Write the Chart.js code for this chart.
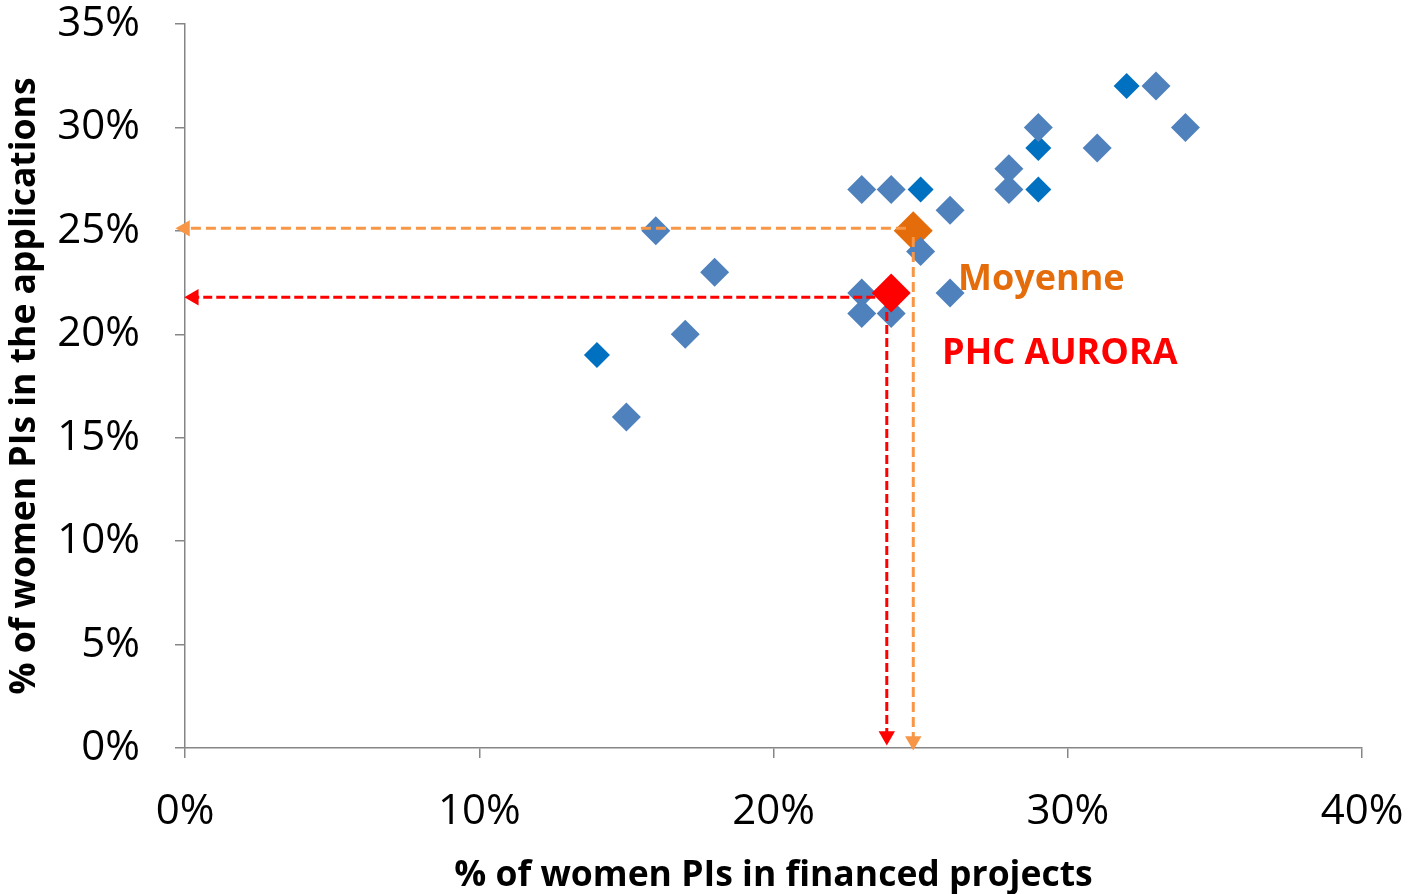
<!DOCTYPE html>
<html><head><meta charset="utf-8">
<script src="https://cdn.jsdelivr.net/npm/chart.js@4/dist/chart.umd.min.js"></script>
<style>html,body{margin:0;padding:0;background:#fff}#wrap{width:1408px;height:894px}</style>
</head><body><div id="wrap"><canvas id="c" width="1408" height="894"></canvas></div>
<script>
// light blue countries: [x = % financed, y = % applications]
const lightX = [15, 16, 17, 18, 23, 24, 23, 23, 24, 25, 26, 26, 28, 28, 29, 31, 33, 34];
const lightY = [16, 25, 20, 23, 27, 27, 22, 21, 21, 24, 26, 22, 28, 27, 30, 29, 32, 30];
// darker blue countries
const darkX = [14, 25, 29, 29, 32];
const darkY = [19, 27, 29, 27, 32];
// average (Moyenne) and PHC AURORA
const moyenne = {x: 24.75, y: 25};
const aurora = {x: 24, y: 22};
// guide arrows
const moyH = [{x: 24.5, y: 25.12}, {x: 0, y: 25.12}];
const moyV = [{x: 24.75, y: 24.7}, {x: 24.75, y: 0.34}];
const aurH = [{x: 23.9, y: 21.79}, {x: 0.3, y: 21.79}];
const aurV = [{x: 23.85, y: 21.7}, {x: 23.85, y: 0.58}];
const xTicks = [0, 10, 20, 30, 40];
const yTicks = [0, 5, 10, 15, 20, 25, 30, 35];

const FONT = '"Open Sans", sans-serif';
const pts = (xs, ys) => xs.map((x, i) => ({x, y: ys[i]}));

const arrow = (data, color, rot, dash) => ({
  type: 'line', data, borderColor: color, backgroundColor: color, borderWidth: 3,
  borderDash: dash, showLine: true, fill: false, clip: false,
  pointStyle: 'triangle', pointRadius: [0, 9.5], pointRotation: [0, rot],
  pointBorderWidth: 0, pointHoverRadius: [0, 9.5], order: 0
});

const labelsPlugin = {
  id: 'labels',
  afterDatasetsDraw(chart) {
    const {ctx, scales: {x, y}} = chart;
    ctx.save();
    ctx.font = 'bold 36px ' + FONT;
    ctx.textBaseline = 'middle';
    ctx.textAlign = 'left';
    ctx.fillStyle = '#E46C0A';
    ctx.fillText('Moyenne', x.getPixelForValue(26.27), y.getPixelForValue(22.65));
    ctx.fillStyle = '#FF0000';
    ctx.fillText('PHC AURORA', x.getPixelForValue(25.73), y.getPixelForValue(19.05));
    ctx.restore();
  }
};

const noPad = s => { s.paddingTop = 0; s.paddingBottom = 0; s.paddingLeft = 0; s.paddingRight = 0; };

new Chart(document.getElementById('c'), {
  type: 'scatter',
  data: {
    datasets: [
      arrow(aurH, '#FF0000', -90, [9, 4]),
      arrow(aurV, '#FF0000', 180, [9, 4]),
      arrow(moyH, '#F79646', -90, [10, 5]),
      arrow(moyV, '#F79646', 180, [10, 5]),
      {data: [aurora], pointStyle: 'rectRot', pointRadius: 19.5, backgroundColor: '#FF0000', borderWidth: 0, order: 1},
      {data: pts(lightX, lightY), pointStyle: 'rectRot', pointRadius: 14.5, backgroundColor: '#4F81BD', borderWidth: 0, order: 2},
      {data: pts(darkX, darkY), pointStyle: 'rectRot', pointRadius: 13, backgroundColor: '#0070C0', borderWidth: 0, order: 3},
      {data: [moyenne], pointStyle: 'rectRot', pointRadius: 19.5, backgroundColor: '#E46C0A', borderWidth: 0, order: 4}
    ]
  },
  options: {
    responsive: false, animation: false, maintainAspectRatio: false,
    layout: {padding: {top: 24, right: 46, left: 0, bottom: 0}},
    plugins: {legend: {display: false}, tooltip: {enabled: false}},
    scales: {
      x: {
        type: 'linear', min: 0, max: 40,
        afterBuildTicks: s => { s.ticks = xTicks.map(v => ({value: v})); },
        afterFit: s => { s.height = 146; noPad(s); },
        ticks: {callback: v => v + '%', color: '#000', font: {family: FONT, size: 42}, padding: 29, maxRotation: 0},
        grid: {display: true, drawOnChartArea: false, drawTicks: true, tickLength: 10, color: '#868686', lineWidth: 1.5},
        border: {display: true, color: '#868686', width: 1.5},
        title: {display: true, text: '% of women PIs in financed projects', color: '#000',
          font: {family: FONT, size: 35.5, weight: 'bold'}, padding: {top: 0, bottom: -3}}
      },
      y: {
        type: 'linear', min: 0, max: 35,
        afterBuildTicks: s => { s.ticks = yTicks.map(v => ({value: v})); },
        afterFit: s => { s.width = 185; noPad(s); },
        ticks: {callback: v => v + '%', color: '#000', font: {family: FONT, size: 42}, padding: 35},
        grid: {display: true, drawOnChartArea: false, drawTicks: true, tickLength: 10, color: '#868686', lineWidth: 1.5},
        border: {display: true, color: '#868686', width: 1.5},
        title: {display: true, text: '% of women PIs in the applications', color: '#000',
          font: {family: FONT, size: 35.5, weight: 'bold'}, padding: {top: 4, bottom: 0}}
      }
    }
  },
  plugins: [labelsPlugin]
});
</script></body></html>
